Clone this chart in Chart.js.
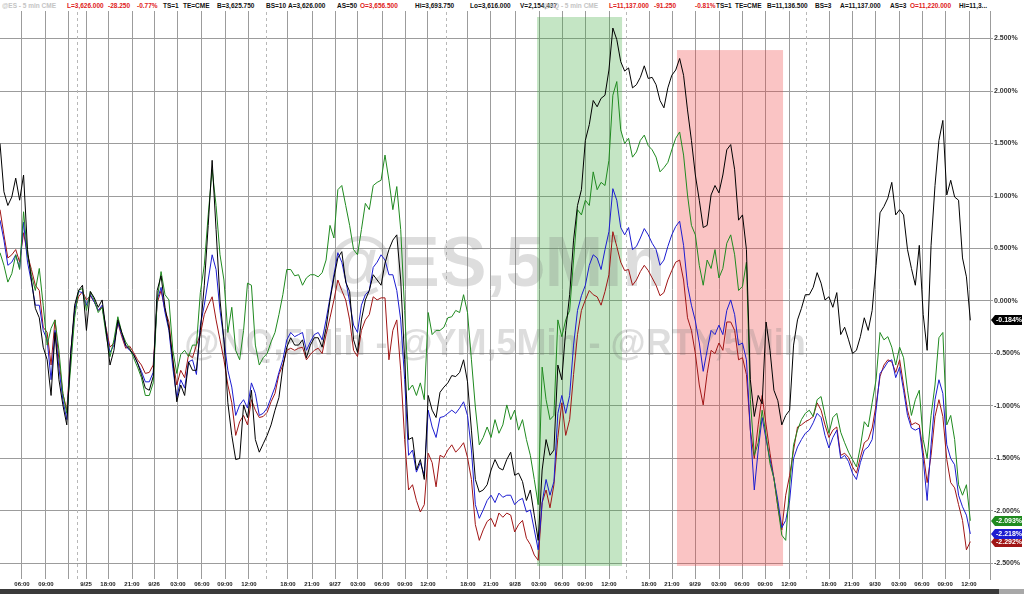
<!DOCTYPE html>
<html>
<head>
<meta charset="utf-8">
<script src="https://cdn.jsdelivr.net/npm/chart.js@4.4.1/dist/chart.umd.min.js"></script>
<style>
  html, body { margin: 0; padding: 0; background: #fff; width: 1024px; height: 594px; overflow: hidden; }
  #wrap { position: absolute; left: 0; top: 0; width: 1024px; height: 589px; }
  #head { position: absolute; left: 0; top: 0; width: 1024px; height: 11px; background: #fff;
          font: bold 6.5px "Liberation Sans", Arial, sans-serif; }
  #head span { position: absolute; top: 2px; white-space: nowrap; }
  #bar { position: absolute; left: 0; top: 589px; width: 1024px; height: 5px; background: #3a3a3a; }
  #bar i { position: absolute; right: 0; top: 0; width: 25px; height: 5px; background: #a8a8a8; }
</style>
</head>
<body>
<div id="wrap"><canvas id="chart"></canvas></div>
<div id="head"></div>
<div id="bar"><i></i></div>
<script>
// percent change of each contract, one reading every half step
const esPct = [1.50,1.04,0.91,0.99,1.17,0.96,1.20,0.49,0.20,-0.07,-0.16,-0.44,-0.56,-0.90,-0.30,-0.75,
  -0.99,-1.18,-0.50,-0.04,0.10,0.15,-0.28,0.09,0.03,-0.06,0.01,-0.28,-0.61,-0.47,-0.18,-0.30,
  -0.42,-0.46,-0.51,-0.59,-0.70,-0.83,-0.85,-0.72,0.10,0.24,-0.06,-0.26,-0.56,-0.96,-0.80,-0.90,
  -0.58,-0.66,-0.66,-0.28,0.15,0.72,1.34,0.68,0.01,-0.37,-0.97,-1.28,-1.51,-1.50,-0.99,-1.11,
  -0.85,-1.32,-1.44,-1.36,-1.28,-1.18,-1.04,-0.92,-0.63,-0.44,-0.35,-0.42,-0.42,-0.37,-0.54,-0.42,
  -0.35,-0.35,-0.44,-0.26,0.01,0.22,0.41,0.47,0.18,0.09,-0.37,-0.49,-0.18,0.01,0.10,0.25,
  0.20,0.15,0.36,0.49,0.58,0.63,0.20,-0.56,-1.32,-1.30,-1.61,-1.51,-1.70,-0.90,-1.04,-1.11,
  -0.87,-0.82,-0.78,-0.71,-0.72,-0.68,-0.56,-0.77,-1.23,-1.70,-1.82,-1.80,-1.75,-1.61,-1.51,-1.59,
  -1.61,-1.51,-1.44,-1.66,-1.64,-1.72,-1.90,-1.80,-2.04,-2.28,-1.61,-1.32,-1.47,-1.42,-0.61,-0.75,
  -0.28,0.06,0.58,0.91,1.06,1.53,1.68,1.91,1.85,1.93,1.96,2.20,2.60,2.49,2.28,2.19,
  2.22,2.03,2.06,2.13,2.24,2.12,2.13,2.06,1.91,1.84,2.03,2.15,2.20,2.31,2.15,1.82,
  1.53,1.20,0.96,0.70,0.72,1.01,1.10,1.03,1.20,1.44,1.49,1.25,0.77,0.82,0.49,-0.75,
  -1.10,-0.90,-0.98,-0.20,-0.47,-0.85,-0.95,-1.18,-1.09,-1.04,-0.42,-0.18,-0.07,0.06,0.06,0.13,
  0.27,0.17,0.01,0.04,-0.06,0.08,-0.32,-0.25,-0.37,-0.50,-0.47,-0.34,-0.16,-0.28,-0.09,0.34,
  0.84,0.90,0.98,1.13,0.82,0.87,0.82,0.49,0.31,0.15,0.53,-0.13,-0.47,0.53,1.10,1.53,
  1.72,1.01,1.15,0.99,0.96,0.41,0.23,-0.184];

const nqPct = [0.46,0.34,0.18,0.26,0.44,0.30,0.85,0.44,0.25,0.10,0.31,-0.04,-0.42,-0.26,-0.18,-0.47,
  -0.88,-1.07,-0.63,-0.16,0.10,0.12,-0.09,0.09,0.01,-0.11,-0.06,-0.32,-0.53,-0.37,-0.15,-0.30,
  -0.39,-0.45,-0.54,-0.63,-0.73,-0.90,-0.90,-0.78,0.01,0.28,0.06,0.01,-0.47,-0.69,-0.51,-0.47,
  -0.53,-0.42,-0.42,0.08,0.34,0.82,1.25,0.91,0.44,0.20,-0.30,-0.06,-0.47,-0.56,-0.28,0.17,
  0.15,-0.42,-0.61,-0.54,-0.50,-0.39,-0.30,-0.13,0.06,0.30,0.30,0.24,0.25,0.15,0.22,0.25,
  0.25,0.23,0.27,0.39,0.72,0.60,1.06,1.10,0.91,0.72,0.49,0.44,0.68,0.93,0.87,1.10,
  1.13,1.15,1.39,1.15,0.87,1.09,0.68,-0.09,-0.85,-0.80,-0.90,-0.78,-0.94,-0.11,-0.32,-0.28,
  -0.28,-0.25,-0.16,-0.15,-0.09,-0.11,0.06,-0.11,-0.56,-1.01,-1.37,-1.30,-1.20,-1.30,-1.13,-1.26,
  -1.18,-0.99,-1.13,-1.04,-1.23,-1.13,-1.32,-1.47,-1.70,-1.94,-0.63,-0.94,-1.13,-1.09,-0.18,-0.34,
  -0.18,-0.09,0.39,0.87,0.82,0.96,0.91,1.23,1.06,1.13,1.10,1.34,1.96,2.09,1.63,1.50,
  1.55,1.37,1.42,1.53,1.58,1.48,1.44,1.37,1.23,1.27,1.32,1.44,1.55,1.61,1.39,1.01,
  0.72,0.63,0.34,0.15,0.39,0.31,0.49,0.22,0.31,0.55,0.63,0.44,0.10,0.14,0.37,-0.94,
  -1.47,-1.35,-1.04,-1.28,-1.55,-1.69,-1.96,-2.23,-2.28,-1.75,-1.37,-1.23,-1.13,-1.07,-1.04,-1.10,
  -0.94,-0.91,-1.09,-1.26,-1.11,-1.07,-1.25,-1.35,-1.44,-1.51,-1.58,-1.39,-1.15,-1.20,-0.97,-0.75,
  -0.30,-0.37,-0.34,-0.44,-0.61,-0.44,-0.54,-0.85,-1.09,-0.94,-0.85,-1.32,-1.50,-1.09,-0.80,-0.35,
  -0.30,-1.18,-1.09,-1.32,-1.75,-1.85,-1.75,-2.093];

const ymPct = [0.77,0.58,0.34,0.37,0.44,0.31,0.75,0.37,0.18,-0.04,-0.04,-0.28,-0.37,-0.75,-0.28,-0.64,
  -0.94,-1.13,-0.50,-0.09,0.09,0.08,-0.04,0.06,-0.01,-0.09,-0.04,-0.28,-0.49,-0.42,-0.20,-0.32,
  -0.43,-0.47,-0.51,-0.59,-0.67,-0.77,-0.77,-0.68,0.01,0.13,-0.11,-0.28,-0.64,-0.92,-0.75,-0.83,
  -0.58,-0.56,-0.70,-0.23,-0.04,0.20,0.44,0.30,-0.09,-0.37,-0.66,-0.82,-1.09,-0.99,-0.94,-1.02,
  -0.78,-0.88,-1.09,-1.07,-1.02,-0.92,-0.82,-0.68,-0.56,-0.37,-0.30,-0.34,-0.32,-0.30,-0.47,-0.39,
  -0.32,-0.30,-0.37,-0.18,0.03,0.25,0.46,0.37,0.20,-0.01,-0.23,-0.30,-0.04,0.06,0.10,0.32,
  0.37,0.44,0.39,0.25,0.25,0.10,-0.18,-0.75,-1.47,-1.42,-1.63,-1.54,-1.66,-1.04,-1.20,-1.30,
  -1.11,-1.10,-1.07,-1.04,-1.07,-1.02,-0.96,-1.09,-1.42,-1.94,-2.07,-1.99,-1.90,-1.85,-1.92,-1.83,
  -1.87,-1.85,-1.85,-1.94,-1.90,-1.88,-2.01,-1.99,-2.18,-2.37,-1.92,-1.70,-1.85,-1.72,-1.07,-0.90,
  -1.07,-0.90,-0.42,-0.09,0.05,0.15,0.34,0.44,0.41,0.30,0.49,0.66,1.07,0.96,0.70,0.63,
  0.70,0.49,0.52,0.60,0.69,0.63,0.55,0.49,0.34,0.39,0.52,0.63,0.71,0.76,0.53,0.15,
  -0.04,-0.19,-0.40,-0.67,-0.47,-0.28,-0.32,-0.23,-0.32,-0.09,0.01,-0.13,-0.42,-0.40,-0.56,-1.23,
  -1.80,-1.42,-1.11,-1.32,-1.51,-1.69,-1.90,-2.16,-2.09,-1.90,-1.50,-1.39,-1.32,-1.26,-1.23,-1.16,
  -1.07,-1.11,-1.28,-1.40,-1.30,-1.23,-1.50,-1.47,-1.53,-1.64,-1.70,-1.54,-1.42,-1.39,-1.32,-1.04,
  -0.69,-0.64,-0.58,-0.56,-0.73,-0.63,-0.85,-1.09,-1.21,-1.23,-1.21,-1.51,-1.90,-1.37,-0.94,-0.75,
  -0.88,-1.37,-1.50,-1.56,-1.85,-1.96,-2.04,-2.218];

const rtyPct = [0.87,0.63,0.41,0.44,0.49,0.37,0.65,0.44,0.30,0.15,0.10,-0.25,-0.30,-0.61,-0.18,-0.56,
  -0.88,-1.04,-0.50,-0.09,0.04,0.09,0.01,0.05,-0.01,-0.09,-0.06,-0.26,-0.44,-0.40,-0.21,-0.34,
  -0.45,-0.43,-0.49,-0.56,-0.61,-0.69,-0.68,-0.61,-0.02,0.10,-0.09,-0.20,-0.56,-0.80,-0.66,-0.73,
  -0.51,-0.54,-0.42,-0.32,-0.13,-0.04,0.04,-0.18,-0.37,-0.56,-0.80,-0.97,-1.28,-1.15,-1.09,-1.18,
  -0.94,-1.04,-1.11,-1.10,-1.06,-0.96,-0.88,-0.70,-0.61,-0.47,-0.45,-0.47,-0.45,-0.44,-0.56,-0.51,
  -0.47,-0.45,-0.50,-0.32,-0.16,0.01,0.20,0.10,0.01,-0.18,-0.47,-0.53,-0.28,-0.18,-0.13,0.04,
  0.01,0.03,0.03,-0.56,-0.28,-0.18,-0.66,-1.32,-1.80,-1.75,-1.90,-2.01,-1.94,-1.45,-1.54,-1.77,
  -1.47,-1.49,-1.42,-1.37,-1.44,-1.40,-1.35,-1.49,-1.70,-2.13,-2.28,-2.18,-2.10,-2.07,-2.15,-2.02,
  -2.06,-2.02,-2.04,-2.20,-2.13,-2.09,-2.26,-2.32,-2.42,-2.47,-1.92,-1.80,-1.97,-1.75,-1.30,-0.97,
  -1.28,-1.13,-0.70,-0.32,-0.09,0.01,0.10,0.06,0.04,-0.04,0.09,0.25,0.66,0.52,0.37,0.29,
  0.30,0.15,0.20,0.28,0.34,0.29,0.22,0.15,0.05,0.08,0.20,0.29,0.37,0.39,0.20,-0.16,
  -0.28,-0.50,-0.80,-0.99,-0.69,-0.47,-0.50,-0.40,-0.47,-0.20,-0.20,-0.28,-0.56,-0.54,-0.70,-1.23,
  -1.50,-1.18,-0.90,-1.18,-1.45,-1.69,-1.96,-2.18,-1.85,-1.66,-1.42,-1.20,-1.18,-1.15,-1.13,-1.10,
  -0.97,-1.04,-1.18,-1.30,-1.23,-1.20,-1.47,-1.45,-1.49,-1.58,-1.64,-1.49,-1.35,-1.32,-1.21,-0.99,
  -0.72,-0.61,-0.56,-0.58,-0.68,-0.56,-0.80,-1.04,-1.18,-1.16,-1.18,-1.44,-1.73,-1.47,-1.10,-0.94,
  -1.10,-1.51,-1.73,-1.78,-1.94,-2.09,-2.37,-2.292];

const stepSize = 0.5; // x units between readings

// x axis ticks (in x units) and their labels
const tickPos = [2.8,5.85,8.78,10.95,13.75,16.8,19.6,22.65,25.7,28.64,31.69,
  36.65,39.71,42.64,45.56,48.62,51.55,54.47,
  59.56,62.49,65.55,68.6,71.53,74.46,77.51,
  82.6,85.53,88.46,91.51,94.44,97.37,100.42,
  105.51,108.44,111.37,114.42,117.35,120.28,123.33];
const tickText = ["06:00","09:00","","9/25","18:00","21:00","9/26","03:00","06:00","09:00","12:00",
  "18:00","21:00","9/27","03:00","06:00","09:00","12:00",
  "18:00","21:00","9/28","03:00","06:00","09:00","12:00",
  "18:00","21:00","9/29","03:00","06:00","09:00","12:00",
  "18:00","21:00","9/30","03:00","06:00","09:00","12:00"];
const sessionBreaks = [9.8, 33.86, 56.76, 79.67, 102.58];
const yTicks = [-2.5,-2.0,-1.5,-1.0,-0.5,0,0.5,1.0,1.5,2.0,2.5];

// highlighted stretches: rally (green) and selloff (red)
const zoneFrom = [68.35, 86.16];
const zoneTo = [79.17, 99.66];
const zoneTop = [2.705, 2.39];
const zoneBottom = [-2.524, -2.524];
const zoneColor = ["rgba(60,170,60,0.30)", "rgba(240,60,60,0.30)"];

const lastLabels = ["-0.184%", "-2.093%", "-2.218%", "-2.292%"];
const seriesColor = ["#000000", "#1f8a1f", "#1c1cd0", "#a01515"];

const headerParts = [
  ["@ES - 5 min  CME", "#c4c4c4", 2], ["L=3,626.000", "#e02020", 67], ["-28.250", "#e02020", 108],
  ["-0.77%", "#e02020", 137], ["TS=1", "#111", 163], ["TE=CME", "#111", 183],
  ["B=3,625.750", "#111", 217], ["BS=10", "#111", 266], ["A=3,626.000", "#111", 288],
  ["AS=50", "#111", 337], ["O=3,656.500", "#e02020", 360], ["Hi=3,693.750", "#111", 415],
  ["Lo=3,616.000", "#111", 470], ["V=2,154,437", "#111", 520], ["@NQ - 5 min  CME", "#c4c4c4", 543],
  ["L=11,137.000", "#e02020", 609], ["-91.250", "#e02020", 654], ["-0.81%", "#e02020", 695],
  ["TS=1", "#111", 716], ["TE=CME", "#111", 735], ["B=11,136.500", "#111", 767],
  ["BS=3", "#111", 815], ["A=11,137.000", "#111", 840], ["AS=3", "#111", 890],
  ["O=11,220.000", "#e02020", 910], ["Hi=11,3...", "#111", 959]
];

const head = document.getElementById("head");
headerParts.forEach(([t, c, l]) => {
  const s = document.createElement("span");
  s.textContent = t;
  s.style.color = c;
  s.style.left = l + "px";
  head.appendChild(s);
});

const toPoints = (arr) => arr.map((v, i) => ({ x: i * stepSize, y: v }));

// shaded zones, session breaks and the faint symbol watermark
const backdrop = {
  id: "backdrop",
  beforeDatasetsDraw(chart) {
    const { ctx, chartArea: a, scales: { x, y } } = chart;
    ctx.save();
    zoneFrom.forEach((f, k) => {
      const x0 = x.getPixelForValue(f), x1 = x.getPixelForValue(zoneTo[k]);
      const y0 = y.getPixelForValue(zoneTop[k]), y1 = y.getPixelForValue(zoneBottom[k]);
      ctx.fillStyle = zoneColor[k];
      ctx.fillRect(x0, y0, x1 - x0, y1 - y0);
    });
    ctx.strokeStyle = "#b8b8b8";
    ctx.lineWidth = 1;
    ctx.setLineDash([3, 3]);
    sessionBreaks.forEach((b) => {
      const px = Math.round(x.getPixelForValue(b)) + 0.5;
      ctx.beginPath();
      ctx.moveTo(px, a.top);
      ctx.lineTo(px, a.bottom);
      ctx.stroke();
    });
    ctx.setLineDash([]);
    const cx = (a.left + a.right) / 2;
    ctx.fillStyle = "rgba(120,120,120,0.25)";
    ctx.textAlign = "center";
    ctx.textBaseline = "middle";
    ctx.font = 'bold 70px "Liberation Sans", Arial, sans-serif';
    ctx.fillText("@ES,5Min", cx, y.getPixelForValue(0.33));
    ctx.font = 'bold 36px "Liberation Sans", Arial, sans-serif';
    ctx.fillText("@NQ,5Min - @YM,5Min - @RTY,5Min", cx, y.getPixelForValue(-0.42));
    ctx.restore();
  }
};

// last-value tags on the right axis
const lastTags = {
  id: "lastTags",
  afterDraw(chart) {
    const { ctx, chartArea: a, scales: { y } } = chart;
    ctx.save();
    ctx.font = 'bold 7px "Liberation Sans", Arial, sans-serif';
    ctx.textBaseline = "middle";
    [0, 1, 3, 2].forEach((k) => {
      const yc = Math.round(y.getPixelForValue(parseFloat(lastLabels[k])));
      const x0 = a.right + 1, x1 = x0 + 31;
      ctx.fillStyle = seriesColor[k];
      ctx.beginPath();
      ctx.moveTo(x0, yc);
      ctx.lineTo(x0 + 4, yc - 5);
      ctx.lineTo(x1, yc - 5);
      ctx.lineTo(x1, yc + 5);
      ctx.lineTo(x0 + 4, yc + 5);
      ctx.closePath();
      ctx.fill();
      ctx.fillStyle = "#fff";
      ctx.fillText(lastLabels[k], x0 + 5, yc + 0.5);
    });
    ctx.restore();
  }
};

const mkSet = (label, arr, color) => ({
  label, data: toPoints(arr), borderColor: color, borderWidth: 1,
  pointRadius: 0, tension: 0, fill: false
});

new Chart(document.getElementById("chart"), {
  type: "line",
  data: {
    datasets: [
      mkSet("@ES", esPct, seriesColor[0]),
      mkSet("@NQ", nqPct, seriesColor[1]),
      mkSet("@YM", ymPct, seriesColor[2]),
      mkSet("@RTY", rtyPct, seriesColor[3])
    ]
  },
  options: {
    responsive: true,
    maintainAspectRatio: false,
    animation: false,
    devicePixelRatio: 1,
    layout: { padding: 0 },
    plugins: { legend: { display: false }, tooltip: { enabled: false } },
    scales: {
      x: {
        type: "linear",
        min: 0,
        max: 126,
        afterBuildTicks: (s) => { s.ticks = tickPos.map((v) => ({ value: v })); },
        afterFit: (s) => { s.height = 10; s.paddingLeft = 0; s.paddingRight = 0; },
        grid: { color: "#9c9c9c", lineWidth: 1, drawTicks: false },
        border: { display: false },
        ticks: {
          autoSkip: false, maxRotation: 0, minRotation: 0, padding: 2,
          color: "#222",
          font: { family: '"Liberation Sans", Arial, sans-serif', size: 6, weight: "bold" },
          callback: (v, i) => tickText[i]
        }
      },
      y: {
        position: "right",
        min: -2.648,
        max: 2.867,
        afterBuildTicks: (s) => { s.ticks = yTicks.map((v) => ({ value: v })); },
        afterFit: (s) => { s.width = 34; s.paddingTop = 0; s.paddingBottom = 0; },
        grid: { color: "#9c9c9c", lineWidth: 1, tickLength: 3 },
        border: { display: true, color: "#9c9c9c" },
        ticks: {
          padding: 1,
          color: "#333",
          font: { family: '"Liberation Sans", Arial, sans-serif', size: 7, weight: "bold" },
          callback: (v) => v.toFixed(3) + "%"
        }
      }
    }
  },
  plugins: [backdrop, lastTags]
});
</script>
</body>
</html>
